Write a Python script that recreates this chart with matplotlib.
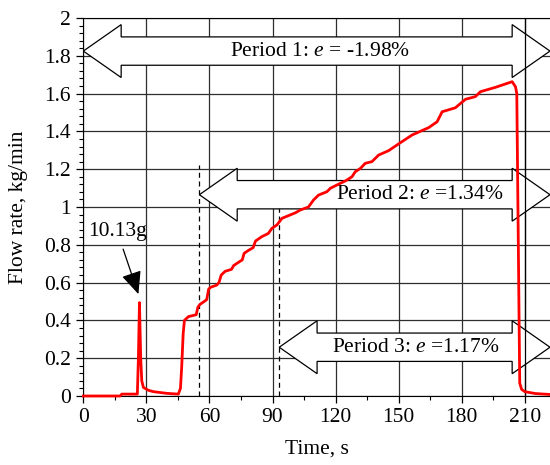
import numpy as np
import matplotlib
matplotlib.use("Agg")
from matplotlib import pyplot as plt
from matplotlib.patches import Polygon
from matplotlib.ticker import MultipleLocator, FuncFormatter

plt.rcParams['font.family'] = ['Liberation Serif', 'DejaVu Serif']
plt.rcParams['font.size'] = 15.5
plt.rcParams['mathtext.fontset'] = 'custom'
plt.rcParams['mathtext.rm'] = 'Liberation Serif'
plt.rcParams['mathtext.it'] = 'Liberation Serif:italic'

# measured flow rate, kg/min
time_s = [0, 17.5, 18.3, 25.7, 26.2, 26.7, 27.3, 27.8, 28.6, 31, 33.3, 39.7, 45.2,
          46.2, 46.8, 47.5, 48.1, 50, 53.7, 54.5, 55.5, 57.5, 58.7, 59.6, 60.5,
          63.5, 64.5, 65.6, 67.5, 70.5, 71.5, 73.5, 75.6, 76.5, 78.5, 80.8, 81.9,
          84.9, 88, 89.7, 92.1, 94.5, 98.4, 101, 103.2, 107.1, 109.5, 111.9, 115.9,
          117.5, 122.2, 125, 127.8, 129.4, 131.8, 134.1, 137.3, 140.5, 145.2,
          150.8, 156.4, 164.3, 168.3, 170.7, 177, 181.8, 186.5, 188.9, 196, 204,
          205.6, 206.2, 207.6, 208.5, 210, 215, 222]
flow = [0, 0, 0.01, 0.01, 0.2, 0.494, 0.2, 0.08, 0.045, 0.03, 0.023, 0.014, 0.01,
        0.04, 0.155, 0.33, 0.40, 0.42, 0.43, 0.47, 0.485, 0.50, 0.51, 0.565, 0.575,
        0.587, 0.60, 0.64, 0.66, 0.67, 0.69, 0.705, 0.72, 0.755, 0.77, 0.785, 0.82,
        0.843, 0.86, 0.887, 0.905, 0.94, 0.958, 0.97, 0.984, 1.0, 1.037, 1.063,
        1.081, 1.099, 1.125, 1.14, 1.16, 1.187, 1.204, 1.231, 1.24, 1.275, 1.298,
        1.34, 1.381, 1.42, 1.451, 1.504, 1.525, 1.57, 1.584, 1.61, 1.633, 1.663,
        1.636, 1.6, 0.068, 0.035, 0.023, 0.013, 0.008]

# measurement periods: start, end, arrow height, label
periods = [
    (0, 222, 1.825, "Period 1: $e$ = -1.98%"),
    (55.2, 222, 1.065, "Period 2: $e$ =1.34%"),
    (93.2, 222, 0.258, "Period 3: $e$ =1.17%"),
]
label_x = [112.8, 160, 158]
period_marks = [(55, 1.22), (93, 1.0)]

peak_label = "10.13g"
peak_t, peak_q = 26.7, 0.494


def double_arrow(x0, x1, yc, shaft=0.075, head=0.14, hlen=18):
    pts = [(x0, yc), (x0 + hlen, yc + head), (x0 + hlen, yc + shaft),
           (x1 - hlen, yc + shaft), (x1 - hlen, yc + head), (x1, yc),
           (x1 - hlen, yc - head), (x1 - hlen, yc - shaft),
           (x0 + hlen, yc - shaft), (x0 + hlen, yc - head)]
    return Polygon(pts, closed=True, facecolor='white', edgecolor='black',
                   linewidth=0.9, zorder=3)


fig = plt.figure(figsize=(5.5, 4.65), dpi=100)
ax = fig.add_axes([0.1515, 0.1484, 0.8485, 0.8129])

ax.set_xlim(0, 222)
ax.set_ylim(0, 2)
ax.xaxis.set_major_locator(MultipleLocator(30))
ax.xaxis.set_minor_locator(MultipleLocator(15))
ax.yaxis.set_major_locator(MultipleLocator(0.2))
ax.yaxis.set_minor_locator(MultipleLocator(0.04))
ax.yaxis.set_major_formatter(FuncFormatter(lambda v, p: f"{v:g}"))
ax.tick_params(which='major', direction='out', length=5, width=0.9, pad=4)
ax.tick_params(which='minor', direction='out', length=3, width=0.8)
ax.grid(True, which='major', color='#2e2e2e', linewidth=0.9, zorder=1)
ax.set_axisbelow(True)
ax.spines['right'].set_visible(False)

for x, top in period_marks:
    ax.plot([x, x], [0, top], color='black', linestyle=(0, (4, 3)),
            linewidth=0.9, zorder=2)

for (x0, x1, yc, text), tx in zip(periods, label_x):
    ax.add_patch(double_arrow(x0, x1, yc))
    ax.text(tx, yc, text, ha='center', va='center', zorder=4)

ax.axvline(210, color='black', linewidth=0.9, zorder=4)

ax.plot(time_s, flow, color='red', linewidth=2.0, zorder=5, clip_on=False)

ax.annotate(peak_label, xy=(peak_t - 0.5, peak_q + 0.045),
            xytext=(16.1, 0.87), ha='center', va='center',
            arrowprops=dict(arrowstyle='-|>,head_length=0.9,head_width=0.4',
                            color='black', linewidth=0.9,
                            shrinkA=4, shrinkB=0), zorder=6)

ax.set_xlabel("Time, s")
ax.set_ylabel("Flow rate, kg/min")
ax.xaxis.set_label_coords(0.5, -0.115)
ax.yaxis.set_label_coords(-0.118, 0.5)

fig.savefig("out.png", dpi=100)
